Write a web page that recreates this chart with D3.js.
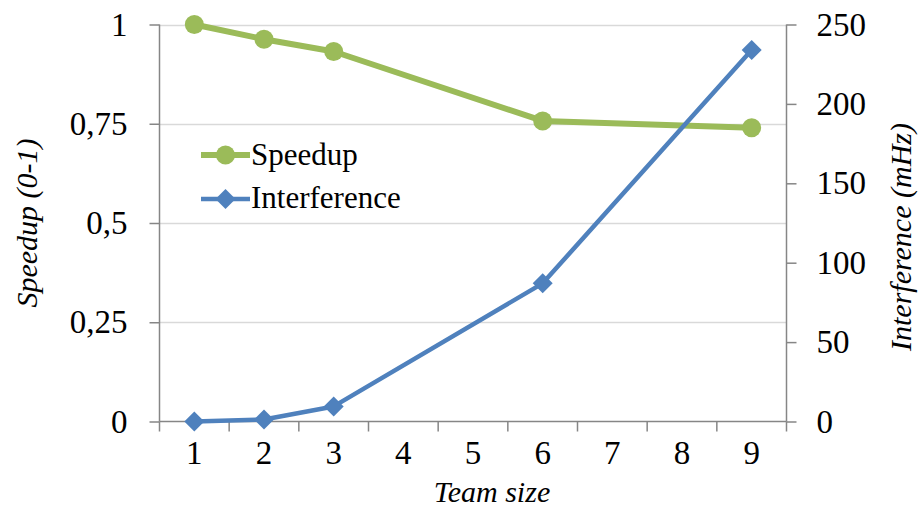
<!DOCTYPE html>
<html><head><meta charset="utf-8">
<script src="https://cdn.jsdelivr.net/npm/d3@7"></script>
<style>html,body{margin:0;padding:0;background:#fff;}svg text{font-family:"Liberation Serif","DejaVu Serif",serif !important;}</style>
</head><body>
<svg id="chart" width="919" height="511"></svg>
<script>
const categories = ["1","2","3","4","5","6","7","8","9"];
const speedupX = ["1","2","3","6","9"];
const speedupValues = [1.0, 0.963, 0.932, 0.757, 0.74];
const interferenceX = ["1","2","3","6","9"];
const interferenceValues = [0, 1.3, 9.5, 87, 234];
const leftTicks = [0, 0.25, 0.5, 0.75, 1];
const leftTickLabels = ["0", "0,25", "0,5", "0,75", "1"];
const rightTicks = [0, 50, 100, 150, 200, 250];

const FONT = '"Liberation Serif","DejaVu Serif",serif';
const svg = d3.select("#chart");
const m = {left: 159.5, right: 786.5, top: 24.5, bottom: 421.5};
const x = d3.scaleBand().domain(categories).range([m.left, m.right]).paddingInner(0).paddingOuter(0);
const yL = d3.scaleLinear().domain([0, 1]).range([m.bottom, m.top]);
const yR = d3.scaleLinear().domain([0, 250]).range([m.bottom, m.top]);
const cx = d => x(d) + x.bandwidth() / 2;
const axisColor = "#868686";

// gridlines
svg.append("g").selectAll("line").data(leftTicks.filter(t => t > 0)).join("line")
  .attr("x1", m.left).attr("x2", m.right)
  .attr("y1", d => Math.round(yL(d)) + 0.5).attr("y2", d => Math.round(yL(d)) + 0.5)
  .attr("stroke", "#d9d9d9").attr("stroke-width", 1.5);

// left axis
const gl = svg.append("g").attr("transform", `translate(${m.left},0)`)
  .call(d3.axisLeft(yL).tickValues(leftTicks).tickFormat((d, i) => leftTickLabels[i]).tickSize(10).tickPadding(22));
// right axis
const gr = svg.append("g").attr("transform", `translate(${m.right},0)`)
  .call(d3.axisRight(yR).tickValues(rightTicks).tickSize(10).tickPadding(20));
// bottom axis
const gb = svg.append("g").attr("transform", `translate(0,${m.bottom})`)
  .call(d3.axisBottom(x).tickSize(0).tickPadding(19));
gb.selectAll(".tick").append("line")
  .attr("x1", -x.bandwidth() / 2).attr("x2", -x.bandwidth() / 2).attr("y1", 0).attr("y2", 10)
  .attr("stroke", axisColor).attr("stroke-width", 1.5);
gb.append("line").attr("x1", m.right).attr("x2", m.right).attr("y1", 0).attr("y2", 10)
  .attr("stroke", axisColor).attr("stroke-width", 1.5);

[gl, gr, gb].forEach(g => {
  g.attr("font-family", FONT);
  g.selectAll(".domain").attr("stroke", axisColor).attr("stroke-width", 1.5);
  g.selectAll(".tick line").attr("stroke", axisColor).attr("stroke-width", 1.5);
  g.selectAll("text").attr("fill", "#000").attr("font-size", 33).attr("font-family", FONT);
});
gl.select(".domain").attr("d", `M0,${m.top}V${m.bottom}`);
gr.select(".domain").attr("d", `M0,${m.top}V${m.bottom}`);
gb.select(".domain").attr("d", `M${m.left},0H${m.right}`);

// series
const green = "#9bbb59", blue = "#4f81bd";
const sData = speedupX.map((c, i) => [cx(c), yL(speedupValues[i])]);
const iData = interferenceX.map((c, i) => [cx(c), yR(interferenceValues[i])]);
svg.append("path").attr("d", d3.line()(sData)).attr("fill", "none").attr("stroke", green).attr("stroke-width", 6).attr("stroke-linejoin", "round");
svg.append("g").selectAll("circle").data(sData).join("circle")
  .attr("cx", d => d[0]).attr("cy", d => d[1]).attr("r", 9.5).attr("fill", green);
svg.append("path").attr("d", d3.line()(iData)).attr("fill", "none").attr("stroke", blue).attr("stroke-width", 4.5).attr("stroke-linejoin", "round");
const diamond = d3.symbol().type(d3.symbolSquare).size(200);
svg.append("g").selectAll("path").data(iData).join("path")
  .attr("d", diamond).attr("transform", d => `translate(${d[0]},${d[1]}) rotate(45)`).attr("fill", blue);

// legend
const lg = svg.append("g").attr("font-family", FONT);
lg.append("line").attr("x1", 201).attr("x2", 250).attr("y1", 155).attr("y2", 155).attr("stroke", green).attr("stroke-width", 6);
lg.append("circle").attr("cx", 225.5).attr("cy", 155).attr("r", 9.5).attr("fill", green);
lg.append("text").attr("x", 251).attr("y", 165).attr("font-size", 31).text("Speedup");
lg.append("line").attr("x1", 201).attr("x2", 250).attr("y1", 199).attr("y2", 199).attr("stroke", blue).attr("stroke-width", 4.5);
lg.append("path").attr("d", diamond).attr("transform", "translate(225.5,199) rotate(45)").attr("fill", blue);
lg.append("text").attr("x", 251).attr("y", 208).attr("font-size", 31).text("Interference");

// axis titles
const tg = svg.append("g").attr("font-family", FONT).attr("font-style", "italic").attr("font-size", 30);
tg.append("text").attr("transform", `translate(37,223) rotate(-90)`)
  .attr("text-anchor", "middle").text("Speedup (0-1)");
tg.append("text").attr("transform", `translate(911,237) rotate(-90)`)
  .attr("text-anchor", "middle").text("Interference (mHz)");
tg.append("text").attr("x", 492).attr("y", 502)
  .attr("text-anchor", "middle").text("Team size");
</script>
</body></html>
